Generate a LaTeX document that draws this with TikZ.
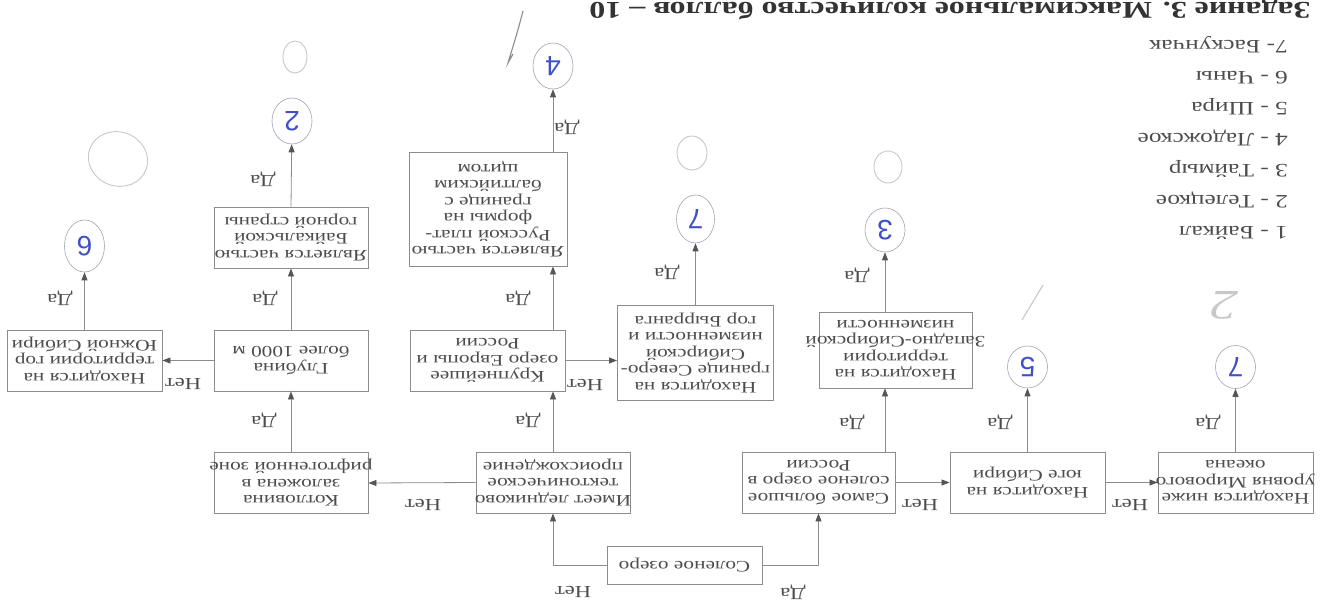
\documentclass[tikz,border=0pt]{standalone}
\usepackage{fontspec}
\setmainfont{Liberation Serif}[FakeStretch=1.33]
\newfontfamily\handfont{Liberation Sans}
\usetikzlibrary{arrows.meta,shapes.geometric}
\definecolor{textc}{HTML}{4D4D4D}
\definecolor{boxc}{HTML}{8C8C8C}
\definecolor{arrc}{HTML}{8C8C8C}
\definecolor{tipc}{HTML}{555555}
\definecolor{penblue}{HTML}{4050C8}
\definecolor{circc}{HTML}{A0A4B4}
\definecolor{titlec}{HTML}{333333}
\definecolor{pencilc}{HTML}{C8C8C8}
\newcommand{\wideline}[1]{\makebox[140pt][c]{#1}}
\begin{document}
\begin{tikzpicture}[x=1pt,y=-1pt,
  box/.style={draw=boxc, line width=0.9pt, rotate=180, align=center, inner sep=1pt,
    minimum width=154pt, minimum height=61pt, text=textc, font=\fontsize{16}{16.5}\selectfont},
  arr/.style={draw=arrc, line width=0.8pt, -{Triangle[length=8pt,width=6pt,color=tipc]}},
  lab/.style={rotate=180, text=textc, font=\fontsize{17}{17}\selectfont, inner sep=0pt},
  circ/.style={ellipse, draw=circc, line width=0.6pt, minimum width=40pt, minimum height=46pt,
    inner sep=0pt, rotate=180, text=penblue, font=\handfont\fontsize{28}{28}\selectfont},
  pencil/.style={draw=pencilc, line width=0.9pt}]
\useasboundingbox[fill=white] (0,0) rectangle (1323,602);

% title and legend
\node[rotate=180, anchor=base, font=\bfseries\fontsize{24}{24}\selectfont, text=titlec, inner sep=0pt]
  (title) at (950,3) {Задание 3. Максимальное количество баллов – 10};
\node[rotate=180, anchor=north west, align=left, font=\fontsize{19}{31}\selectfont, text=textc, inner sep=0pt]
  (legend) at (1288,240) {1 - Байкал\\2 - Телецкое\\3 - Таймыр\\4 - Ладожское\\5 - Шира\\6 - Чаны\\7- Баскунчак};

% boxes
\node[box, minimum width=155pt, minimum height=38pt] (solen) at (684.5,565) {Соленое озеро};
\node[box] (imeet) at (553,482.5) {\wideline{Имеет ледниково}\\тектоническое\\происхождение};
\node[box] (kotl) at (291,483) {Котловина\\заложена в\\\wideline{рифтогенной зоне}};
\node[box] (glub) at (291,360.5) {Глубина\\более 1000 м};
\node[box] (baik) at (291,237.5) {\wideline{Является частью}\\Байкальской\\горной страны};
\node[box, minimum width=155pt] (yuzh) at (84.5,360.5) {Находится на\\территории гор\\Южной Сибири};
\node[box, minimum width=155pt] (krup) at (487.5,360.5) {Крупнейшее\\озеро Европы и\\России};
\node[box, minimum width=158pt, minimum height=114pt] (rus) at (488,209) {\wideline{Является частью}\\Русской плат-\\формы на\\границе с\\балтийским\\щитом};
\node[box, minimum width=156pt, minimum height=95pt] (sev) at (695.5,353) {Находится на\\границе Северо-\\Сибирской\\низменности и\\гор Бырранга};
\node[box, minimum width=153pt] (samoe) at (818.5,482.5) {Самое большое\\соленое озеро в\\России};
\node[box, minimum width=153pt, minimum height=76pt] (zapsib) at (895.5,350) {Находится на\\территории\\\wideline{Западно-Сибирской}\\низменности};
\node[box, minimum width=155pt] (yug) at (1027.5,482.5) {Находится на\\юге Сибири};
\node[box, minimum width=155pt] (nizhe) at (1235.5,482.5) {\wideline{Находится ниже}\\\wideline{уровня Мирового}\\океана};

% answer circles
\node[circ] (c2) at (292,121) {2};
\node[circ, minimum height=52pt] (c6) at (84.5,246) {6};
\node[circ] (c4) at (553,66) {4};
\node[circ, minimum width=38pt, minimum height=48pt] (c7a) at (695.5,219) {7};
\node[circ, minimum height=44pt] (c8) at (885,230) {3};
\node[circ, minimum height=42pt] (c5) at (1027.5,367) {5};
\node[circ, minimum height=43pt] (c7b) at (1235.5,367) {7};

% connectors
\draw[arr] (solen.east) -| (imeet.north);
\draw[arr] (solen.west) -| (samoe.north);
\draw[arr] (imeet.east) -- (kotl.west);
\draw[arr] (kotl.south) -- (glub.north);
\draw[arr] (glub.south) -- (baik.north);
\draw[arr] (glub.east) -- (yuzh.west);
\draw[arr] (baik.south) -- (c2);
\draw[arr] (yuzh.south) -- (c6);
\draw[arr] (imeet.south) -- (imeet.south |- krup.north);
\draw[arr] (imeet.south |- krup.south) -- (imeet.south |- rus.north);
\draw[arr] (imeet.south |- rus.south) -- (c4);
\draw[arr] (krup.west) -- (krup.west -| sev.east);
\draw[arr] (sev.south) -- (c7a);
\draw[arr] (c8 |- samoe.south) -- (c8 |- zapsib.north);
\draw[arr] (c8 |- zapsib.south) -- (c8);
\draw[arr] (samoe.west) -- (yug.east);
\draw[arr] (yug.west) -- (nizhe.east);
\draw[arr] (yug.south) -- (c5);
\draw[arr] (nizhe.south) -- (c7b);

% labels
\node[lab] (l1) at (573,592) {Нет};
\node[lab] (l2) at (793,592) {Да};
\node[lab] (l3) at (423,505) {Нет};
\node[lab] (l4) at (264,420) {Да};
\node[lab] (l5) at (265,298) {Да};
\node[lab] (l6) at (263,179) {Да};
\node[lab] (l7) at (183,384) {Нет};
\node[lab] (l8) at (60,298) {Да};
\node[lab] (l9) at (528,420) {Да};
\node[lab] (l10) at (518,298) {Да};
\node[lab] (l11) at (567,127) {Да};
\node[lab] (l12) at (585,385) {Нет};
\node[lab] (l13) at (667,272) {Да};
\node[lab] (l14) at (852,422) {Да};
\node[lab] (l15) at (857,275) {Да};
\node[lab] (l16) at (920,505) {Нет};
\node[lab] (l17) at (1000,422) {Да};
\node[lab] (l18) at (1130,505) {Нет};
\node[lab] (l19) at (1208,422) {Да};

% pencil marks
\draw[pencil] (295,57) ellipse (12 and 16);
\draw[pencil, rotate around={-20:(118,159)}] (118,159) ellipse (30 and 27);
\draw[pencil] (692,153) ellipse (15 and 17);
\draw[pencil] (888,167) ellipse (14 and 16);
\draw[pencil, draw=black!45, line width=1.1pt] (523,11) .. controls (518,30) .. (508,63) -- (513,54);
\draw[pencil, line width=1.1pt] (1043,285) -- (1022,320);
\node[rotate=180, text=pencilc, font=\itshape\fontsize{42}{42}\selectfont, inner sep=0pt] (p2) at (1225,305) {2};
\end{tikzpicture}
\end{document}
